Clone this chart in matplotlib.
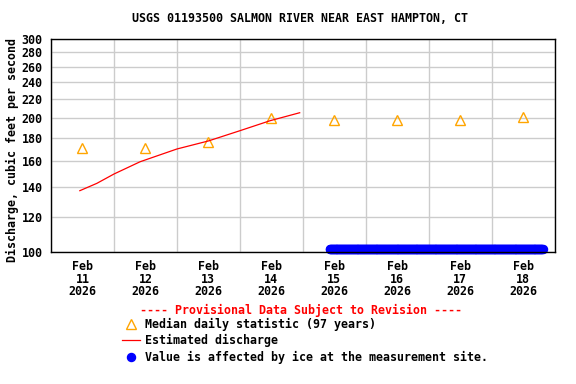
import numpy as np
import pandas as pd
import matplotlib
matplotlib.use('Agg')
import matplotlib.pyplot as plt
import matplotlib.dates as mdates
from matplotlib.ticker import FixedLocator, FixedFormatter, NullLocator

plt.rcParams['font.family'] = ['DejaVu Sans Mono']
plt.rcParams['font.weight'] = 'bold'
FS = 8.4

# median daily statistic (97 years), plotted at noon of each day
median_days = pd.to_datetime(['2026-02-11 12:00', '2026-02-12 12:00', '2026-02-13 12:00',
                              '2026-02-14 12:00', '2026-02-15 12:00', '2026-02-16 12:00',
                              '2026-02-17 12:00', '2026-02-18 12:00'])
median_vals = [170.8, 170.8, 176.8, 200.1, 198.0, 197.3, 197.9, 200.2]

# estimated discharge
est_times = pd.to_datetime(['2026-02-11 11:00', '2026-02-11 17:30', '2026-02-12 00:00',
                            '2026-02-12 10:00', '2026-02-13 00:00', '2026-02-13 12:00',
                            '2026-02-14 00:00', '2026-02-14 11:30', '2026-02-14 22:50'])
est_vals = [137.2, 142.5, 149.5, 159.3, 170.1, 177.3, 186.9, 196.8, 205.1]

# ice affected period (15-minute readings, drawn along the bottom)
ice_times = pd.date_range('2026-02-15 10:15', '2026-02-18 19:30', freq='15min')
ice_level = 101.4

yticks = [100, 120, 140, 160, 180, 200, 220, 240, 260, 280, 300]

fig = plt.figure(figsize=(5.76, 3.84), dpi=100)
ax = fig.add_axes([51/576, 1-252/384, (554.5-51)/576, (252-39)/384])

ax.set_yscale('log')
ax.set_ylim(100, 300)
ax.set_xlim(pd.Timestamp('2026-02-11'), pd.Timestamp('2026-02-19'))

ax.yaxis.set_major_locator(FixedLocator(yticks))
ax.yaxis.set_major_formatter(FixedFormatter([str(t) for t in yticks]))
ax.yaxis.set_minor_locator(NullLocator())

ax.xaxis.set_major_locator(mdates.DayLocator())
ax.xaxis.set_major_formatter(plt.NullFormatter())
ax.xaxis.set_minor_locator(mdates.HourLocator(byhour=[12]))
ax.xaxis.set_minor_formatter(mdates.DateFormatter('%b\n%d\n%Y'))

ax.grid(True, which='major', color='#cccccc', lw=1.0)
ax.set_axisbelow(True)
ax.tick_params(which='both', length=0, labelsize=FS)
ax.tick_params(axis='y', pad=6)
ax.tick_params(axis='x', which='minor', pad=6)
for lbl in ax.get_xticklabels(minor=True):
    lbl.set_linespacing(0.95)
for sp in ax.spines.values():
    sp.set_linewidth(1.0)

h_med, = ax.plot(median_days, median_vals, linestyle='none', marker='^', ms=7.5,
                 mfc='none', mec='#FFA500', mew=1.0, label='Median daily statistic (97 years)')
h_est, = ax.plot(est_times, est_vals, color='red', lw=0.9, label='Estimated discharge')
h_ice, = ax.plot(ice_times, [ice_level] * len(ice_times), linestyle='none', marker='o',
                 ms=5.8, color='blue', clip_on=False,
                 label='Value is affected by ice at the measurement site.')

fig.text(300.5/576, 1-19/384, 'USGS 01193500 SALMON RIVER NEAR EAST HAMPTON, CT',
         ha='center', va='center', fontsize=FS, fontweight='bold')
fig.text(12/576, 1-150/384, 'Discharge, cubic feet per second', rotation=90,
         ha='center', va='center', fontsize=FS, fontweight='bold')
fig.text(301.5/576, 1-310.7/384, '---- Provisional Data Subject to Revision ----',
         ha='center', va='center', fontsize=FS, fontweight='bold', color='red')

fig.legend(handles=[h_med, h_est, h_ice], loc='upper left',
           bbox_to_anchor=(122/576, 1-317.5/384), frameon=False, fontsize=FS,
           borderpad=0, borderaxespad=0, handlelength=1.5, handletextpad=0.5,
           labelspacing=0.3)

fig.savefig('out.png', dpi=100)
